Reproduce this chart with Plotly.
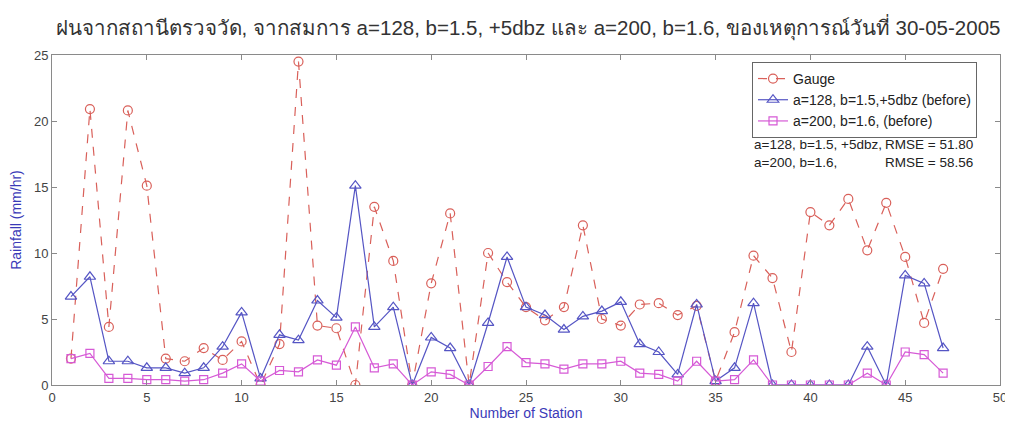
import plotly.graph_objects as go

stations = list(range(1, 48))
gauge = [2.0, 20.9, 4.4, 20.8, 15.1, 2.0, 1.8, 2.8, 1.9, 3.3,
         0.0, 3.1, 24.5, 4.5, 4.3, 0.0, 13.5, 9.4, 0.0, 7.7,
         13.0, 0.0, 10.0, 7.8, 5.9, 4.9, 5.9, 12.1, 5.0, 4.5,
         6.1, 6.2, 5.3, 6.0, 0.3, 4.0, 9.8, 8.1, 2.5, 13.1,
         12.1, 14.1, 10.2, 13.8, 9.7, 4.7, 8.8]
a128 = [6.7, 8.2, 1.8, 1.8, 1.3, 1.3, 0.9, 1.3, 2.9, 5.5,
        0.5, 3.8, 3.4, 6.4, 5.1, 15.1, 4.4, 5.9, 0.0, 3.6,
        2.8, 0.0, 4.7, 9.7, 5.9, 5.3, 4.2, 5.2, 5.6, 6.3,
        3.1, 2.5, 0.8, 6.1, 0.3, 1.3, 6.2, 0.0, 0.0, 0.0,
        0.0, 0.0, 2.9, 0.0, 8.3, 7.7, 2.8]
a200 = [2.0, 2.4, 0.5, 0.5, 0.4, 0.4, 0.3, 0.4, 0.9, 1.6,
        0.3, 1.1, 1.0, 1.9, 1.5, 4.4, 1.3, 1.6, 0.0, 1.0,
        0.8, 0.0, 1.4, 2.9, 1.7, 1.6, 1.2, 1.6, 1.6, 1.8,
        0.9, 0.8, 0.3, 1.8, 0.3, 0.4, 1.9, 0.0, 0.0, 0.0,
        0.0, 0.0, 0.9, 0.0, 2.5, 2.3, 0.9]

x_ticks = list(range(0, 51, 5))
y_ticks = list(range(0, 26, 5))

title = "ฝนจากสถานีตรวจวัด, จากสมการ a=128, b=1.5, +5dbz และ a=200, b=1.6, ของเหตุการณ์วันที่ 30-05-2005"
rmse_labels = ["a=128, b=1.5, +5dbz,", "a=200, b=1.6,"]
rmse_values = ["RMSE = 51.80", "RMSE = 58.56"]

FONT = "Liberation Sans, Arial, sans-serif"

fig = go.Figure()
fig.add_trace(go.Scatter(
    x=stations, y=gauge, name="Gauge", mode="lines+markers",
    line=dict(color="#d9605a", width=1.2, dash="dash"),
    marker=dict(symbol="circle-open", size=9, color="#d9605a", line=dict(width=1.2)),
))
fig.add_trace(go.Scatter(
    x=stations, y=a128, name="a=128, b=1.5,+5dbz (before)", mode="lines+markers",
    line=dict(color="#5555c4", width=1.2),
    marker=dict(symbol="triangle-up-open", size=10, color="#5555c4", line=dict(width=1.2)),
))
fig.add_trace(go.Scatter(
    x=stations, y=a200, name="a=200, b=1.6, (before)", mode="lines+markers",
    line=dict(color="#d65ad6", width=1.2),
    marker=dict(symbol="square-open", size=8, color="#d65ad6", line=dict(width=1.2)),
))

axis_common = dict(
    showgrid=False, zeroline=False, showline=True, linecolor="#8a8a8a", linewidth=1,
    mirror="ticks", ticks="inside", ticklen=5, tickcolor="#8a8a8a", automargin=False,
    tickfont=dict(family=FONT, size=13, color="#444444"),
)

fig.update_layout(
    width=1005, height=419,
    margin=dict(l=44, r=13, t=47, b=42),
    paper_bgcolor="white", plot_bgcolor="white",
    title=dict(text=title, x=0.5174, xanchor="center", y=0.952, yanchor="middle",
               font=dict(family=FONT, size=20.5, color="#333333")),
    xaxis=dict(range=[0, 50], tickvals=x_ticks, **axis_common,
               title=dict(text="Number of Station", standoff=2,
                          font=dict(family=FONT, size=14, color="#3a3ab8"))),
    yaxis=dict(range=[0, 25], tickvals=y_ticks, **axis_common,
               title=dict(text="Rainfall (mm/hr)", standoff=9,
                          font=dict(family=FONT, size=14, color="#3a3ab8"))),
    legend=dict(x=0.7384, y=0.979, xanchor="left", yanchor="top",
                bgcolor="white", bordercolor="#666666", borderwidth=1,
                font=dict(family=FONT, size=14, color="#222222"),
                tracegroupgap=0, itemwidth=30),
    showlegend=True,
)

fig.add_annotation(xref="paper", yref="paper", x=0.7384, y=0.703, xanchor="left",
                   yanchor="middle", align="left", text="<br>".join(rmse_labels),
                   showarrow=False, font=dict(family=FONT, size=13.5, color="#222222"))
fig.add_annotation(xref="paper", yref="paper", x=0.9736, y=0.703, xanchor="right",
                   yanchor="middle", align="right", text="<br>".join(rmse_values),
                   showarrow=False, font=dict(family=FONT, size=13.5, color="#222222"))

fig.write_html("out.html")
